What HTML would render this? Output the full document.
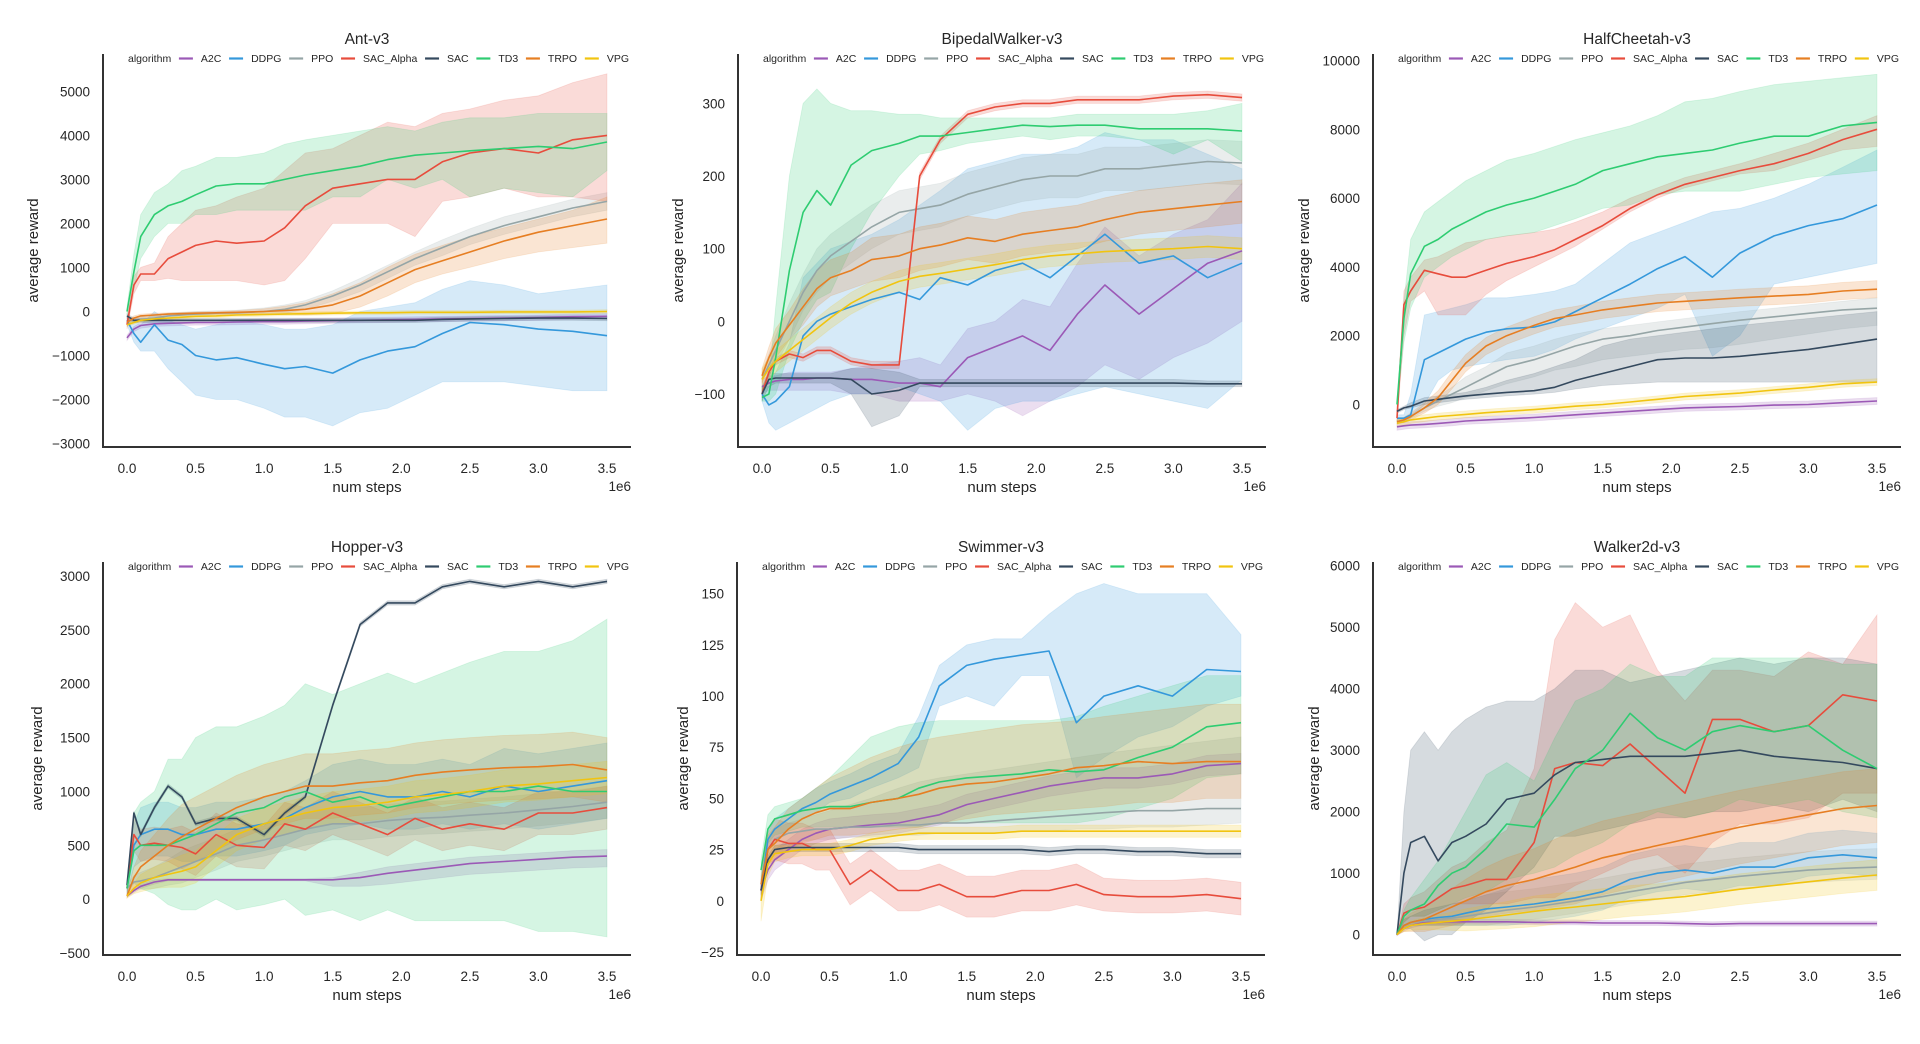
<!DOCTYPE html>
<html><head><meta charset="utf-8"><title>RL benchmark curves</title>
<style>
html,body{margin:0;padding:0;background:#fff;}
svg{display:block;font-family:"Liberation Sans",Arial,sans-serif;}
</style></head>
<body>
<svg id="fig" width="1920" height="1044" viewBox="0 0 1920 1044" xmlns="http://www.w3.org/2000/svg">
<rect width="1920" height="1044" fill="#fff"/>
</svg>
<script>
// ---- shared data ----
const ALGOS = ["A2C","DDPG","PPO","SAC_Alpha","SAC","TD3","TRPO","VPG"];
const COLORS = ["#9b59b6","#3498db","#95a5a6","#e74c3c","#34495e","#2ecc71","#e67e22","#f1c40f"];
const STEPS = [0,0.05,0.1,0.2,0.3,0.4,0.5,0.65,0.8,1.0,1.15,1.3,1.5,1.7,1.9,2.1,2.3,2.5,2.75,3.0,3.25,3.5];
const X_TICKS = [0,0.5,1.0,1.5,2.0,2.5,3.0,3.5];

// ---- Ant-v3 ----
const ANT_A2C = [-600,-400,-320,-280,-270,-260,-250,-250,-240,-230,-230,-220,-210,-200,-190,-180,-170,-160,-150,-140,-120,-110];
const ANT_A2C_DEV = [60,60,60,60,60,60,60,60,60,60,60,60,60,60,60,60,60,60,60,60,60,60];
const ANT_DDPG = [-200,-500,-700,-300,-650,-750,-1000,-1100,-1050,-1200,-1300,-1250,-1400,-1100,-900,-800,-500,-250,-300,-400,-450,-550];
const ANT_DDPG_LO = [-300,-700,-900,-900,-1300,-1600,-1900,-2000,-2000,-2200,-2400,-2400,-2600,-2300,-2200,-1900,-1600,-1600,-1600,-1700,-1800,-1800];
const ANT_DDPG_HI = [-100,-200,-300,0,-200,-300,-400,-300,-200,-300,-400,-400,-300,0,100,200,500,700,600,400,500,600];
const ANT_PPO = [-200,-200,-180,-150,-100,-80,-60,-40,-30,0,50,150,350,600,900,1200,1450,1700,1950,2150,2350,2500];
const ANT_PPO_DEV = [60,60,60,60,60,60,60,60,60,80,100,100,120,150,150,150,180,180,200,200,200,200];
const ANT_SACA = [-300,600,850,850,1200,1350,1500,1600,1550,1600,1900,2400,2800,2900,3000,3000,3400,3600,3700,3600,3900,4000];
const ANT_SACA_LO = [-400,400,700,700,750,700,700,700,700,600,700,1200,2000,2000,2000,1700,2500,2600,2800,2600,2600,2500];
const ANT_SACA_HI = [-200,800,1000,1100,1700,2000,2300,2400,2600,2800,3200,3600,3700,4000,4300,4200,4500,4600,4800,4900,5200,5400];
const ANT_SAC = [-100,-200,-200,-200,-200,-200,-200,-200,-200,-200,-200,-200,-200,-200,-200,-200,-180,-170,-160,-150,-150,-160];
const ANT_SAC_DEV = [50,50,50,50,50,50,50,50,50,50,50,50,50,50,50,50,50,50,50,50,50,50];
const ANT_TD3 = [0,900,1700,2200,2400,2500,2650,2850,2900,2900,3000,3100,3200,3300,3450,3550,3600,3650,3700,3750,3700,3850];
const ANT_TD3_LO = [-100,500,1200,1700,2000,2000,2200,2200,2300,2300,2300,2300,2600,2600,3000,2800,3000,2600,2800,2700,2600,3200];
const ANT_TD3_HI = [100,1300,2200,2700,2900,3200,3300,3500,3500,3600,3800,3900,4000,4100,4200,4100,4300,4400,4400,4500,4500,4500];
const ANT_TRPO = [-250,-150,-100,-80,-60,-50,-40,-30,-20,0,20,50,150,350,650,950,1150,1350,1600,1800,1950,2100];
const ANT_TRPO_LO = [-300,-200,-150,-120,-100,-90,-80,-70,-60,-60,-60,-80,-50,100,350,650,850,1000,1200,1350,1450,1550];
const ANT_TRPO_HI = [-200,-100,-60,-40,-30,-20,-10,0,20,60,120,200,400,650,1000,1300,1500,1700,1900,2100,2300,2600];
const ANT_VPG = [-300,-250,-200,-170,-150,-130,-110,-100,-80,-70,-60,-50,-40,-30,-30,-20,-20,-20,-10,-10,-10,0];
const ANT_VPG_DEV = [40,40,40,40,40,40,40,40,40,40,40,40,40,40,40,40,40,40,40,40,40,40];
const ANT_Y_TICKS = [-3000,-2000,-1000,0,1000,2000,3000,4000,5000];

// ---- BipedalWalker-v3 ----
const BIP_A2C = [-90,-85,-82,-80,-80,-78,-78,-80,-80,-85,-85,-90,-50,-35,-20,-40,10,50,10,45,80,97];
const BIP_A2C_LO = [-100,-95,-95,-95,-95,-95,-95,-100,-100,-110,-110,-110,-100,-110,-130,-110,-90,-60,-80,-50,-30,0];
const BIP_A2C_HI = [-80,-75,-75,-70,-70,-70,-70,-65,-60,-55,-50,-60,-10,0,30,20,80,130,90,120,140,190];
const BIP_DDPG = [-100,-115,-110,-90,-20,0,10,20,30,40,30,60,50,70,80,60,90,120,80,90,60,80];
const BIP_DDPG_LO = [-110,-140,-150,-140,-130,-120,-110,-100,-100,-90,-100,-110,-150,-120,-110,-110,-100,-90,-100,-110,-120,-80];
const BIP_DDPG_HI = [-90,-90,-70,-30,60,80,100,110,120,140,160,180,210,220,230,230,240,260,250,250,230,210];
const BIP_PPO = [-80,-60,-40,0,40,70,90,110,130,150,155,160,175,185,195,200,200,210,210,215,220,218];
const BIP_PPO_DEV = [10,15,20,25,25,30,30,30,30,30,30,30,30,30,30,30,30,30,30,30,30,30];
const BIP_SACA = [-100,-70,-55,-45,-50,-40,-40,-55,-60,-60,200,250,285,295,300,300,305,305,305,310,312,308];
const BIP_SACA_DEV = [5,5,5,5,5,5,5,5,5,5,5,5,5,5,5,5,5,5,5,5,5,5];
const BIP_SAC = [-100,-80,-78,-78,-78,-78,-78,-80,-100,-95,-85,-85,-85,-85,-85,-85,-85,-85,-85,-85,-86,-86];
const BIP_SAC_LO = [-110,-90,-85,-85,-85,-85,-85,-100,-145,-130,-90,-90,-90,-90,-90,-90,-90,-90,-90,-90,-90,-90];
const BIP_SAC_HI = [-90,-70,-72,-72,-72,-72,-72,-65,-65,-70,-80,-80,-80,-80,-80,-80,-80,-80,-80,-80,-82,-82];
const BIP_TD3 = [-105,-100,-50,70,150,180,160,215,235,245,255,255,260,265,270,268,270,270,265,265,265,262];
const BIP_TD3_LO = [-110,-110,-100,-40,0,30,40,100,150,200,230,235,245,250,255,250,255,255,250,230,250,220];
const BIP_TD3_HI = [-90,-80,20,200,300,320,300,290,290,285,285,280,280,280,280,280,285,285,285,285,290,300];
const BIP_TRPO = [-75,-50,-30,-5,20,45,60,70,85,90,100,105,115,110,120,125,130,140,150,155,160,165];
const BIP_TRPO_DEV = [10,15,20,20,25,25,25,25,30,30,30,30,30,30,30,30,30,30,30,30,30,30];
const BIP_VPG = [-80,-65,-55,-40,-25,-10,5,25,40,55,62,66,72,78,85,90,93,96,98,100,103,100];
const BIP_VPG_DEV = [15,15,15,15,15,15,15,15,15,15,15,15,15,15,15,15,15,15,15,15,15,15];
const BIP_Y_TICKS = [-100,0,100,200,300];

// ---- HalfCheetah-v3 ----
const HC_A2C = [-650,-620,-600,-580,-550,-520,-480,-450,-420,-380,-340,-300,-250,-200,-150,-100,-80,-60,-20,0,50,100];
const HC_A2C_DEV = [100,100,100,100,100,100,100,100,100,100,100,100,100,100,100,100,100,100,100,100,100,100];
const HC_DDPG = [-400,-400,-300,1300,1500,1700,1900,2100,2200,2250,2400,2700,3100,3500,3950,4300,3700,4400,4900,5200,5400,5800];
const HC_DDPG_LO = [-500,-500,-400,0,700,1000,1100,1200,1300,1400,1600,1900,2200,2500,2800,3200,1400,2000,3500,3700,3900,4100];
const HC_DDPG_HI = [-300,-300,300,2600,2700,2800,2900,3100,3100,3200,3300,3500,4100,4700,5000,5300,5600,5700,6000,6400,6900,7400];
const HC_PPO = [-500,-450,-350,-100,100,300,500,800,1100,1300,1500,1700,1900,2000,2150,2250,2350,2450,2550,2650,2750,2800];
const HC_PPO_LO = [-550,-500,-400,-200,-50,50,200,400,600,800,1000,1100,1300,1400,1500,1600,1650,1750,1900,2050,2200,2300];
const HC_PPO_HI = [-450,-400,-300,0,250,500,800,1100,1500,1700,1900,2050,2200,2300,2400,2500,2600,2700,2800,2900,3000,3100];
const HC_SACA = [-400,2900,3300,3900,3800,3700,3700,3900,4100,4300,4500,4800,5200,5700,6100,6400,6600,6800,7000,7300,7700,8000];
const HC_SACA_LO = [-500,2000,3000,3300,2600,2600,2600,3200,3600,4000,4300,4600,5100,5600,6000,6300,6500,6700,6800,7100,7400,7500];
const HC_SACA_HI = [-300,3300,3700,4200,4300,4500,4700,4800,4900,5000,5100,5300,5600,6000,6300,6600,6800,7000,7300,7600,8000,8400];
const HC_SAC = [-200,-100,-50,100,150,200,250,300,350,400,500,700,900,1100,1300,1350,1350,1400,1500,1600,1750,1900];
const HC_SAC_LO = [-250,-150,-100,0,50,100,150,200,250,300,350,450,550,600,650,650,650,650,650,650,650,650];
const HC_SAC_HI = [-150,-50,50,200,250,300,350,500,700,900,1100,1300,1700,1900,2000,2100,2200,2300,2400,2500,2600,2700];
const HC_TD3 = [0,2500,3800,4600,4800,5100,5300,5600,5800,6000,6200,6400,6800,7000,7200,7300,7400,7600,7800,7800,8100,8200];
const HC_TD3_LO = [-100,1800,2800,3700,4000,4300,4500,4800,4900,5000,5200,5400,5700,5800,6100,6200,6200,6200,6400,6600,6700,6800];
const HC_TD3_HI = [100,3000,4800,5600,5900,6200,6500,6800,7100,7300,7500,7700,7900,8100,8400,8800,8900,9100,9300,9400,9500,9600];
const HC_TRPO = [-500,-450,-350,-100,200,700,1200,1700,2000,2300,2500,2600,2750,2850,2950,3000,3050,3100,3150,3200,3300,3350];
const HC_TRPO_DEV = [50,80,100,150,200,250,250,250,250,250,250,250,250,250,250,250,250,250,250,250,250,250];
const HC_VPG = [-550,-500,-450,-400,-350,-320,-290,-240,-200,-150,-100,-50,0,70,150,230,280,330,420,500,600,650];
const HC_VPG_DEV = [100,100,100,100,100,100,100,100,100,100,100,100,100,100,100,100,100,100,100,100,100,100];
const HC_Y_TICKS = [0,2000,4000,6000,8000,10000];

// ---- Hopper-v3 ----
const HOP_A2C = [30,80,120,160,180,180,180,180,180,180,180,180,180,200,240,270,300,330,350,370,390,400];
const HOP_A2C_LO = [20,60,100,140,170,170,170,170,170,170,170,170,120,120,140,170,200,230,250,270,290,300];
const HOP_A2C_HI = [40,100,140,180,190,190,190,190,190,190,190,190,200,250,300,330,360,390,410,430,450,460];
const HOP_DDPG = [100,500,600,650,650,600,600,650,650,700,750,850,950,1000,950,950,1000,950,1050,1000,1050,1100];
const HOP_DDPG_DEV = [50,200,250,250,250,250,250,250,250,250,250,250,300,300,300,300,300,300,350,350,350,350];
const HOP_PPO = [100,160,170,200,250,300,350,420,500,550,600,650,700,700,730,750,760,780,800,830,860,900];
const HOP_PPO_DEV = [30,60,80,100,120,150,150,150,150,150,150,150,150,150,150,150,150,150,150,150,150,150];
const HOP_SACA = [100,600,500,520,500,480,420,600,500,480,700,650,800,700,600,750,650,700,650,800,800,850];
const HOP_SACA_DEV = [50,150,150,150,150,200,200,200,200,200,200,200,200,200,200,200,200,200,200,200,200,200];
const HOP_SAC = [130,800,600,850,1050,950,700,750,750,600,800,950,1800,2550,2750,2750,2900,2950,2900,2950,2900,2950];
const HOP_SAC_DEV = [20,20,20,20,20,20,20,20,20,20,20,20,20,20,20,20,20,20,20,20,20,20];
const HOP_TD3 = [100,450,500,500,500,550,600,700,800,850,950,1000,900,950,850,900,950,1000,1000,1050,1000,1000];
const HOP_TD3_LO = [50,150,100,50,-50,-100,-100,0,-100,-50,0,-150,-100,-200,-100,-200,-200,-200,-200,-300,-300,-350];
const HOP_TD3_HI = [150,800,900,1000,1300,1300,1500,1600,1600,1700,1800,2000,1900,2000,2100,2000,2100,2200,2300,2300,2400,2600];
const HOP_TRPO = [30,200,300,400,500,580,650,750,850,950,1000,1050,1050,1080,1100,1150,1180,1200,1220,1230,1250,1200];
const HOP_TRPO_DEV = [20,100,150,200,250,300,300,300,300,300,300,300,300,300,300,300,300,300,300,300,300,300];
const HOP_VPG = [30,100,150,200,230,260,300,450,600,700,750,800,850,870,900,950,970,1000,1050,1070,1100,1130];
const HOP_VPG_DEV = [20,50,80,100,120,150,150,150,150,150,150,150,150,150,150,150,150,150,150,150,150,150];
const HOP_Y_TICKS = [-500,0,500,1000,1500,2000,2500,3000];

// ---- Swimmer-v3 ----
const SW_A2C = [5,15,20,25,30,33,35,36,37,38,40,42,47,50,53,56,58,60,60,62,66,67];
const SW_A2C_DEV = [5,5,5,5,5,5,5,5,5,5,5,5,5,5,5,5,5,5,5,5,5,5];
const SW_DDPG = [5,30,35,40,45,48,52,56,60,67,80,105,115,118,120,122,87,100,105,100,113,112];
const SW_DDPG_LO = [0,25,30,35,40,43,48,50,55,60,65,95,100,95,110,110,60,70,80,85,95,100];
const SW_DDPG_HI = [10,35,40,45,50,55,58,62,67,72,90,115,125,128,128,140,150,155,150,150,150,130];
const SW_PPO = [5,25,30,33,34,35,35,36,36,37,37,38,38,39,40,41,42,43,44,44,45,45];
const SW_PPO_LO = [0,20,25,28,29,30,30,31,31,32,32,33,33,33,34,34,35,35,36,36,37,38];
const SW_PPO_HI = [10,30,35,38,40,42,44,47,50,55,58,60,62,64,66,68,70,72,74,76,78,80];
const SW_SACA = [5,25,30,28,28,25,25,8,15,5,5,8,2,2,5,5,8,3,2,2,3,1];
const SW_SACA_DEV = [5,8,10,10,10,10,10,10,10,10,10,10,10,10,10,10,10,8,8,8,8,8];
const SW_SAC = [5,20,25,26,26,26,26,26,26,26,25,25,25,25,25,24,25,25,24,24,23,23];
const SW_SAC_DEV = [2,2,2,2,2,2,2,2,2,2,2,2,2,2,2,2,2,2,2,2,2,2];
const SW_TD3 = [15,35,40,42,44,45,46,46,48,50,55,58,60,61,62,64,63,64,70,75,85,87];
const SW_TD3_LO = [10,28,32,34,36,36,36,36,36,36,36,38,38,38,38,38,38,40,45,50,60,62];
const SW_TD3_HI = [20,42,46,48,50,55,60,70,80,85,87,88,88,88,88,88,90,95,100,105,110,110];
const SW_TRPO = [8,25,28,35,40,43,45,45,48,50,52,55,57,58,60,62,65,66,68,67,68,68];
const SW_TRPO_LO = [5,18,20,25,28,30,32,32,33,35,36,38,40,42,43,44,45,46,48,48,50,50];
const SW_TRPO_HI = [12,32,36,45,50,55,60,65,70,75,78,80,82,84,86,87,88,90,92,94,96,96];
const SW_VPG = [0,18,23,24,25,25,25,27,30,32,33,33,33,33,34,34,34,34,34,34,34,34];
const SW_VPG_DEV = [10,6,4,3,3,3,3,3,3,3,3,3,3,3,3,3,3,3,3,3,3,3];
const SW_Y_TICKS = [-25,0,25,50,75,100,125,150];

// ---- Walker2d-v3 ----
const WK_A2C = [0,100,150,200,200,210,210,210,210,200,200,200,190,190,190,180,170,180,180,180,180,180];
const WK_A2C_DEV = [20,40,40,40,40,40,40,40,40,40,40,40,40,40,40,40,40,40,40,40,40,40];
const WK_DDPG = [0,150,200,250,280,300,350,420,450,500,550,600,700,900,1000,1050,1000,1100,1100,1250,1300,1250];
const WK_DDPG_LO = [0,100,150,150,150,150,150,150,150,200,250,300,400,600,700,750,700,800,800,950,1000,950];
const WK_DDPG_HI = [0,250,300,400,450,500,550,650,750,900,950,1000,1100,1300,1400,1450,1400,1500,1500,1650,1700,1650];
const WK_PPO = [0,150,200,220,250,270,300,350,400,450,500,550,620,700,770,850,900,950,1000,1050,1080,1100];
const WK_PPO_LO = [0,100,150,150,150,150,150,150,200,250,300,350,420,500,570,650,700,750,800,850,880,900];
const WK_PPO_HI = [0,250,300,400,450,500,550,650,700,750,800,850,920,1000,1070,1150,1200,1250,1300,1350,1380,1400];
const WK_SACA = [0,350,400,450,600,750,800,900,900,1500,2700,2800,2750,3100,2700,2300,3500,3500,3300,3400,3900,3800];
const WK_SACA_LO = [0,200,300,300,400,500,500,500,500,600,600,800,1000,1200,1300,1000,1500,1800,1800,1900,2300,2300];
const WK_SACA_HI = [0,500,600,700,900,1100,1200,1500,1700,2700,4800,5400,5000,5200,4300,3800,4300,4300,4200,4600,4400,5200];
const WK_SAC = [0,1000,1500,1600,1200,1500,1600,1800,2200,2300,2600,2800,2850,2900,2900,2900,2950,3000,2900,2850,2800,2700];
const WK_SAC_LO = [0,100,100,-100,0,0,200,400,700,1100,1600,1600,1700,1800,1900,1900,2000,2000,2100,2000,2200,2000];
const WK_SAC_HI = [0,2000,3000,3300,3000,3300,3500,3700,3800,3800,4000,4300,4300,4100,4200,4300,4400,4500,4400,4500,4500,4400];
const WK_TD3 = [0,300,400,500,800,1000,1100,1400,1800,1750,2200,2700,3000,3600,3200,3000,3300,3400,3300,3400,3000,2700];
const WK_TD3_LO = [0,200,300,300,400,500,600,700,900,1000,1100,1300,1500,1800,2000,1900,2000,2200,2100,2200,2000,1900];
const WK_TD3_HI = [0,400,600,900,1200,1600,2000,2600,2800,2500,3200,3800,4000,4400,4200,4200,4500,4500,4500,4500,4400,4400];
const WK_TRPO = [0,150,200,250,350,450,550,700,800,900,1000,1100,1250,1350,1450,1550,1650,1750,1850,1950,2050,2100];
const WK_TRPO_DEV = [0,100,150,200,250,300,350,400,450,500,550,600,600,600,600,600,600,600,600,600,600,600];
const WK_VPG = [0,100,150,180,200,220,240,280,320,380,420,450,500,550,580,620,680,740,800,860,920,970];
const WK_VPG_DEV = [0,50,80,100,120,150,180,200,220,250,250,250,250,250,250,250,250,250,250,250,250,250];
const WK_Y_TICKS = [0,1000,2000,3000,4000,5000,6000];

// ---- panels (layout separate from data) ----
const W = 528, H = 393;
const PANELS = [
 {key:"ant", title:"Ant-v3", left:103, top:54, ymin:-3080, ymax:5850, ticks:ANT_Y_TICKS, ylab:70,
  s:[[ANT_A2C,null,null,ANT_A2C_DEV],[ANT_DDPG,ANT_DDPG_LO,ANT_DDPG_HI],[ANT_PPO,null,null,ANT_PPO_DEV],[ANT_SACA,ANT_SACA_LO,ANT_SACA_HI],[ANT_SAC,null,null,ANT_SAC_DEV],[ANT_TD3,ANT_TD3_LO,ANT_TD3_HI],[ANT_TRPO,ANT_TRPO_LO,ANT_TRPO_HI],[ANT_VPG,null,null,ANT_VPG_DEV]]},
 {key:"bipedal", title:"BipedalWalker-v3", left:738, top:54, ymin:-173, ymax:368, ticks:BIP_Y_TICKS, ylab:60,
  s:[[BIP_A2C,BIP_A2C_LO,BIP_A2C_HI],[BIP_DDPG,BIP_DDPG_LO,BIP_DDPG_HI],[BIP_PPO,null,null,BIP_PPO_DEV],[BIP_SACA,null,null,BIP_SACA_DEV],[BIP_SAC,BIP_SAC_LO,BIP_SAC_HI],[BIP_TD3,BIP_TD3_LO,BIP_TD3_HI],[BIP_TRPO,null,null,BIP_TRPO_DEV],[BIP_VPG,null,null,BIP_VPG_DEV]]},
 {key:"halfcheetah", title:"HalfCheetah-v3", left:1373, top:54, ymin:-1237, ymax:10190, ticks:HC_Y_TICKS, ylab:69,
  s:[[HC_A2C,null,null,HC_A2C_DEV],[HC_DDPG,HC_DDPG_LO,HC_DDPG_HI],[HC_PPO,HC_PPO_LO,HC_PPO_HI],[HC_SACA,HC_SACA_LO,HC_SACA_HI],[HC_SAC,HC_SAC_LO,HC_SAC_HI],[HC_TD3,HC_TD3_LO,HC_TD3_HI],[HC_TRPO,null,null,HC_TRPO_DEV],[HC_VPG,null,null,HC_VPG_DEV]]},
 {key:"hopper", title:"Hopper-v3", left:103, top:562, ymin:-518, ymax:3130, ticks:HOP_Y_TICKS, ylab:66,
  s:[[HOP_A2C,HOP_A2C_LO,HOP_A2C_HI],[HOP_DDPG,null,null,HOP_DDPG_DEV],[HOP_PPO,null,null,HOP_PPO_DEV],[HOP_SACA,null,null,HOP_SACA_DEV],[HOP_SAC,null,null,HOP_SAC_DEV],[HOP_TD3,HOP_TD3_LO,HOP_TD3_HI],[HOP_TRPO,null,null,HOP_TRPO_DEV],[HOP_VPG,null,null,HOP_VPG_DEV]]},
 {key:"swimmer", title:"Swimmer-v3", left:737, top:562, ymin:-26.5, ymax:165.5, ticks:SW_Y_TICKS, ylab:54,
  s:[[SW_A2C,null,null,SW_A2C_DEV],[SW_DDPG,SW_DDPG_LO,SW_DDPG_HI],[SW_PPO,SW_PPO_LO,SW_PPO_HI],[SW_SACA,null,null,SW_SACA_DEV],[SW_SAC,null,null,SW_SAC_DEV],[SW_TD3,SW_TD3_LO,SW_TD3_HI],[SW_TRPO,SW_TRPO_LO,SW_TRPO_HI],[SW_VPG,null,null,SW_VPG_DEV]]},
 {key:"walker2d", title:"Walker2d-v3", left:1373, top:562, ymin:-330, ymax:6060, ticks:WK_Y_TICKS, ylab:59,
  s:[[WK_A2C,null,null,WK_A2C_DEV],[WK_DDPG,WK_DDPG_LO,WK_DDPG_HI],[WK_PPO,WK_PPO_LO,WK_PPO_HI],[WK_SACA,WK_SACA_LO,WK_SACA_HI],[WK_SAC,WK_SAC_LO,WK_SAC_HI],[WK_TD3,WK_TD3_LO,WK_TD3_HI],[WK_TRPO,null,null,WK_TRPO_DEV],[WK_VPG,null,null,WK_VPG_DEV]]}
];

const NS = "http://www.w3.org/2000/svg";
const svg = document.getElementById("fig");
function mk(tag, attrs, parent){
  const e = document.createElementNS(NS, tag);
  for (const k in attrs) e.setAttribute(k, attrs[k]);
  (parent||svg).appendChild(e);
  return e;
}
function fmt(v){ return v < 0 ? "\u2212" + Math.abs(v) : String(v); }
const measureCtx = document.createElement("canvas").getContext("2d");

PANELS.forEach(p => {
  const xs = v => p.left + W * (v + 0.175) / 3.85;
  const ys = v => p.top + H * (p.ymax - v) / (p.ymax - p.ymin);
  const bottom = p.top + H;
  const g = mk("g", {});
  
  
  const clipId = "clip-" + p.key;
  const cp = mk("clipPath", {id: clipId}, g);
  mk("rect", {x: p.left, y: p.top, width: W, height: H}, cp);
  const plot = mk("g", {"clip-path": "url(#" + clipId + ")"}, g);
  
  

  // bands
  p.s.forEach((ser, i) => {
    const m = ser[0];
    const lo = ser[1] ? ser[1] : m.map((v, j) => v - ser[3][j]);
    const hi = ser[2] ? ser[2] : m.map((v, j) => v + ser[3][j]);
    let d = "";
    STEPS.forEach((x, j) => { d += (j ? "L" : "M") + xs(x).toFixed(1) + "," + ys(hi[j]).toFixed(1); });
    for (let j = STEPS.length - 1; j >= 0; j--) d += "L" + xs(STEPS[j]).toFixed(1) + "," + ys(lo[j]).toFixed(1);
    const band = mk("path", {d: d + "Z", fill: COLORS[i], "fill-opacity": 0.2, stroke: COLORS[i], "stroke-opacity": 0.15, "stroke-width": 0.8}, plot);
    
    
  });
  // lines
  p.s.forEach((ser, i) => {
    const m = ser[0];
    const pts = STEPS.map((x, j) => xs(x).toFixed(1) + "," + ys(m[j]).toFixed(1)).join(" ");
    const ln = mk("polyline", {points: pts, fill: "none", stroke: COLORS[i], "stroke-width": 1.6, "stroke-linejoin": "round"}, plot);
    
    
  });

  // spines
  const sp = mk("path", {d: `M${p.left},${p.top}V${bottom}H${p.left + W}`, fill: "none", stroke: "#333", "stroke-width": 2}, g);
  
  

  // x ticks
  X_TICKS.forEach(t => {
    const tx = mk("text", {x: xs(t), y: bottom + 26, "text-anchor": "middle", "font-size": 13.5, fill: "#262626"}, g);
    tx.textContent = t.toFixed(1);
    
    
  });
  const xl = mk("text", {x: p.left + W / 2, y: bottom + 45, "text-anchor": "middle", "font-size": 15, fill: "#262626"}, g);
  xl.textContent = "num steps";
  
  
  const off = mk("text", {x: p.left + W, y: bottom + 44, "text-anchor": "end", "font-size": 13.5, fill: "#262626"}, g);
  off.textContent = "1e6";
  
  

  // y ticks
  p.ticks.forEach(t => {
    const ty = mk("text", {x: p.left - 13, y: ys(t) + 5, "text-anchor": "end", "font-size": 13.5, fill: "#262626"}, g);
    ty.textContent = fmt(t);
    
    
  });
  const yx = p.left - p.ylab, yy = p.top + H / 2;
  const yl = mk("text", {x: yx, y: yy, "text-anchor": "middle", "font-size": 15, fill: "#262626", transform: `rotate(-90 ${yx} ${yy})`, dy: "5"}, g);
  yl.textContent = "average reward";
  
  

  // title
  const ti = mk("text", {x: p.left + W / 2, y: p.top - 10, "text-anchor": "middle", "font-size": 15.5, fill: "#262626"}, g);
  ti.textContent = p.title;
  
  

  // legend
  const lg = mk("g", {}, g);
  
  
  const fs = 10.5;
  measureCtx.font = fs + 'px "Liberation Sans", Arial, sans-serif';
  const labels = ["algorithm"].concat(ALGOS);
  const handle = 14, hgap = 8;
  const widths = labels.map((l, k) => measureCtx.measureText(l).width + (k ? handle + hgap : 0));
  const x0 = p.left + 25, x1 = p.left + W - 2;
  const total = widths.reduce((a, b) => a + b, 0);
  const gap = (x1 - x0 - total) / (labels.length - 1);
  let cx = x0;
  const ly = p.top + 8;
  labels.forEach((l, k) => {
    if (k > 0) {
      const hl = mk("line", {x1: cx, x2: cx + handle, y1: ly - 3.5, y2: ly - 3.5, stroke: COLORS[k - 1], "stroke-width": 2.2}, lg);
      
      
    }
    const tx = mk("text", {x: cx + (k ? handle + hgap : 0), y: ly, "font-size": fs, fill: "#262626"}, lg);
    tx.textContent = l;
    
    
    cx += widths[k] + gap;
  });
});
</script>
</body></html>
